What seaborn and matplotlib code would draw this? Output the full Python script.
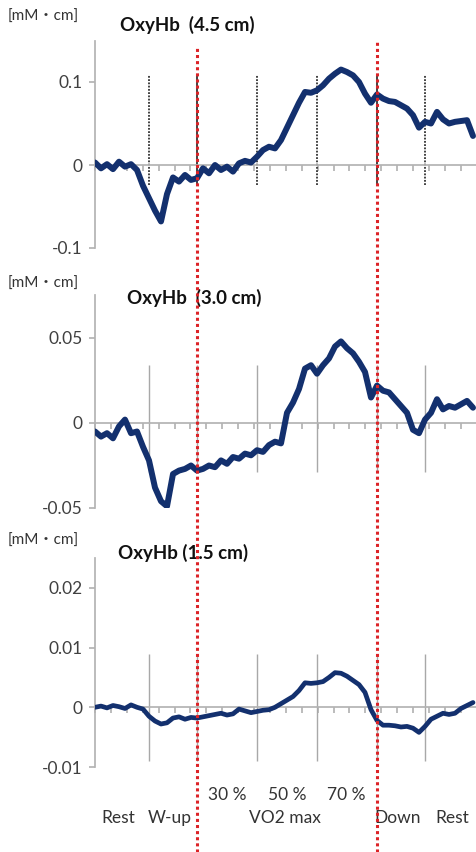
import numpy as np
import pandas as pd
import matplotlib
matplotlib.use("Agg")
import matplotlib.pyplot as plt
import matplotlib.transforms as mtransforms
from matplotlib.lines import Line2D
from matplotlib.ticker import MultipleLocator
import seaborn as sns

# tiempo (min) y señales OxyHb
minutos = np.arange(0, 32, 0.5)

oxy_45 = [
    0.003, -0.004, 0.001, -0.005, 0.004, -0.002, 0.001, -0.006,
    -0.025, -0.04, -0.055, -0.068, -0.035, -0.015, -0.02, -0.012,
    -0.018, -0.016, -0.004, -0.01, 0.0, -0.006, -0.002, -0.008,
    0.002, 0.005, 0.003, 0.01, 0.018, 0.022, 0.02, 0.03,
    0.045, 0.06, 0.075, 0.088, 0.087, 0.09, 0.096, 0.104,
    0.11, 0.115, 0.112, 0.108, 0.1, 0.086, 0.075, 0.085,
    0.08, 0.077, 0.076, 0.072, 0.068, 0.06, 0.045, 0.052,
    0.05, 0.064, 0.055, 0.05, 0.052, 0.053, 0.054, 0.035,
]

oxy_30 = [
    -0.005, -0.008, -0.006, -0.009, -0.002, 0.002, -0.006, -0.005,
    -0.014, -0.022, -0.038, -0.046, -0.049, -0.03, -0.028, -0.027,
    -0.025, -0.028, -0.027, -0.025, -0.026, -0.022, -0.024, -0.02,
    -0.021, -0.018, -0.019, -0.016, -0.017, -0.013, -0.011, -0.012,
    0.006, 0.012, 0.02, 0.032, 0.034, 0.029, 0.034, 0.038,
    0.045, 0.048, 0.044, 0.041, 0.036, 0.03, 0.015, 0.022,
    0.019, 0.018, 0.014, 0.01, 0.006, -0.004, -0.006, 0.002,
    0.006, 0.014, 0.008, 0.01, 0.009, 0.011, 0.013, 0.009,
]

oxy_15 = [
    0.0, 0.0002, -0.0001, 0.0003, 0.0001, -0.0002, 0.0004, 0.0,
    -0.0003, -0.0015, -0.0023, -0.0028, -0.0026, -0.0018, -0.0016, -0.002,
    -0.0017, -0.0018, -0.0016, -0.0014, -0.0012, -0.001, -0.0013, -0.0011,
    -0.0003, -0.0006, -0.0009, -0.0007, -0.0005, -0.0004, 0.0, 0.0006,
    0.0012, 0.0018, 0.0028, 0.0041, 0.004, 0.0041, 0.0043, 0.005,
    0.0058, 0.0057, 0.0052, 0.0045, 0.0038, 0.0025, -0.0004, -0.0022,
    -0.003, -0.003, -0.0031, -0.0033, -0.0032, -0.0035, -0.0042, -0.0032,
    -0.002, -0.0015, -0.001, -0.0012, -0.001, -0.0002, 0.0003, 0.0008,
]

# limites de fases
fases = [4.5, 8.5, 13.5, 18.5, 23.5, 27.5]
fases_rojas = [8.5, 23.5]

titulos = ["OxyHb  (4.5 cm)", "OxyHb  (3.0 cm)", "OxyHb (1.5 cm)"]
yticks = [[-0.1, 0, 0.1], [-0.05, 0, 0.05], [-0.01, 0, 0.01, 0.02]]
yticklabels = [["-0.1", "0", "0.1"], ["-0.05", "0", "0.05"],
               ["-0.01", "0", "0.01", "0.02"]]
ylims = [(-0.1, 0.15), (-0.05, 0.075), (-0.01, 0.025)]

etiquetas_pct = ["30 %", "50 %", "70 %"]
pos_pct = [11.0, 16.0, 20.9]
etiquetas_fase = ["Rest", "W-up", "VO2 max", "Down", "Rest"]
pos_fase = [1.9, 6.2, 15.8, 25.2, 29.8]

sns.set_theme(style="white")
plt.rcParams["font.family"] = ["Lato", "Noto Sans CJK JP", "DejaVu Sans"]

W, H = 476, 852
fig = plt.figure(figsize=(W / 100, H / 100), dpi=100)


def caja(top, bottom):
    return [95 / W, 1 - bottom / H, 381 / W, (bottom - top) / H]


ax1 = fig.add_axes(caja(40.5, 248))
ax2 = fig.add_axes(caja(295.5, 508))
ax3 = fig.add_axes(caja(558, 767))
ejes = [ax1, ax2, ax3]

datos = [oxy_45, oxy_30, oxy_15]
grosor = [4.3, 4.3, 3.4]
azul = "#13306e"
gris = "#b3b3b3"

for i, ax in enumerate(ejes):
    df = pd.DataFrame({"t": minutos, "oxy": datos[i]})
    sns.lineplot(data=df, x="t", y="oxy", ax=ax, color=azul,
                 linewidth=grosor[i], zorder=3)
    ax.set_xlim(0, 31.75)
    ax.set_ylim(*ylims[i])
    ax.set_yticks(yticks[i])
    ax.set_yticklabels(yticklabels[i])
    ax.set_xlabel("")
    ax.set_ylabel("")
    ax.spines["top"].set_visible(False)
    ax.spines["right"].set_visible(False)
    ax.spines["left"].set_color(gris)
    ax.spines["bottom"].set_position(("data", 0))
    ax.spines["bottom"].set_color(gris)
    ax.xaxis.set_major_locator(MultipleLocator(1.325))
    ax.tick_params(axis="x", bottom=True, length=4, color=gris,
                   labelbottom=False, direction="out")
    ax.tick_params(axis="y", left=True, length=4, color=gris,
                   labelsize=12.5, labelcolor="#404040", pad=5)
    ax.patch.set_alpha(0)

# lineas verticales de fases
negras = [f for f in fases if f not in fases_rojas]
ax1.vlines(negras, -0.024, 0.108, color="#333333", linewidth=1.3,
           linestyles=[(0, (1, 0.8))], zorder=2)
ax1.vlines(fases_rojas, -0.024, 0.108, color="#222222", linewidth=1.2, zorder=2)
ax2.vlines(fases, -0.029, 0.034, color="#a8a8a8", linewidth=1.0, zorder=1)
ax3.vlines(fases, -0.009, 0.009, color="#a8a8a8", linewidth=1.0, zorder=1)

# lineas rojas punteadas a lo largo de toda la figura
trans = mtransforms.blended_transform_factory(ax3.transData, fig.transFigure)
for x, tope in zip(fases_rojas, [48, 40]):
    fig.add_artist(Line2D([x, x], [0, 1 - tope / H], transform=trans,
                          color="#dc2327", linewidth=2.2,
                          linestyle=(0, (1, 1)), zorder=5))

# textos
for y in [17, 284, 541]:
    fig.text(8 / W, 1 - y / H, "[mM・cm]", fontsize=11, color="#333333",
             va="center", ha="left")
for titulo, (x, y) in zip(titulos, [(120, 25), (127, 298), (118, 553)]):
    fig.text(x / W, 1 - y / H, titulo, fontsize=13.5, fontweight="bold",
             color="#111111", va="center", ha="left")

for lab, x in zip(etiquetas_pct, pos_pct):
    fig.text(x, 1 - 795 / H, lab, transform=trans, fontsize=12.5,
             color="#333333", ha="center", va="center")
for lab, x in zip(etiquetas_fase, pos_fase):
    fig.text(x, 1 - 818 / H, lab, transform=trans, fontsize=12.5,
             color="#333333", ha="center", va="center")

fig.savefig("out.png", dpi=100)
